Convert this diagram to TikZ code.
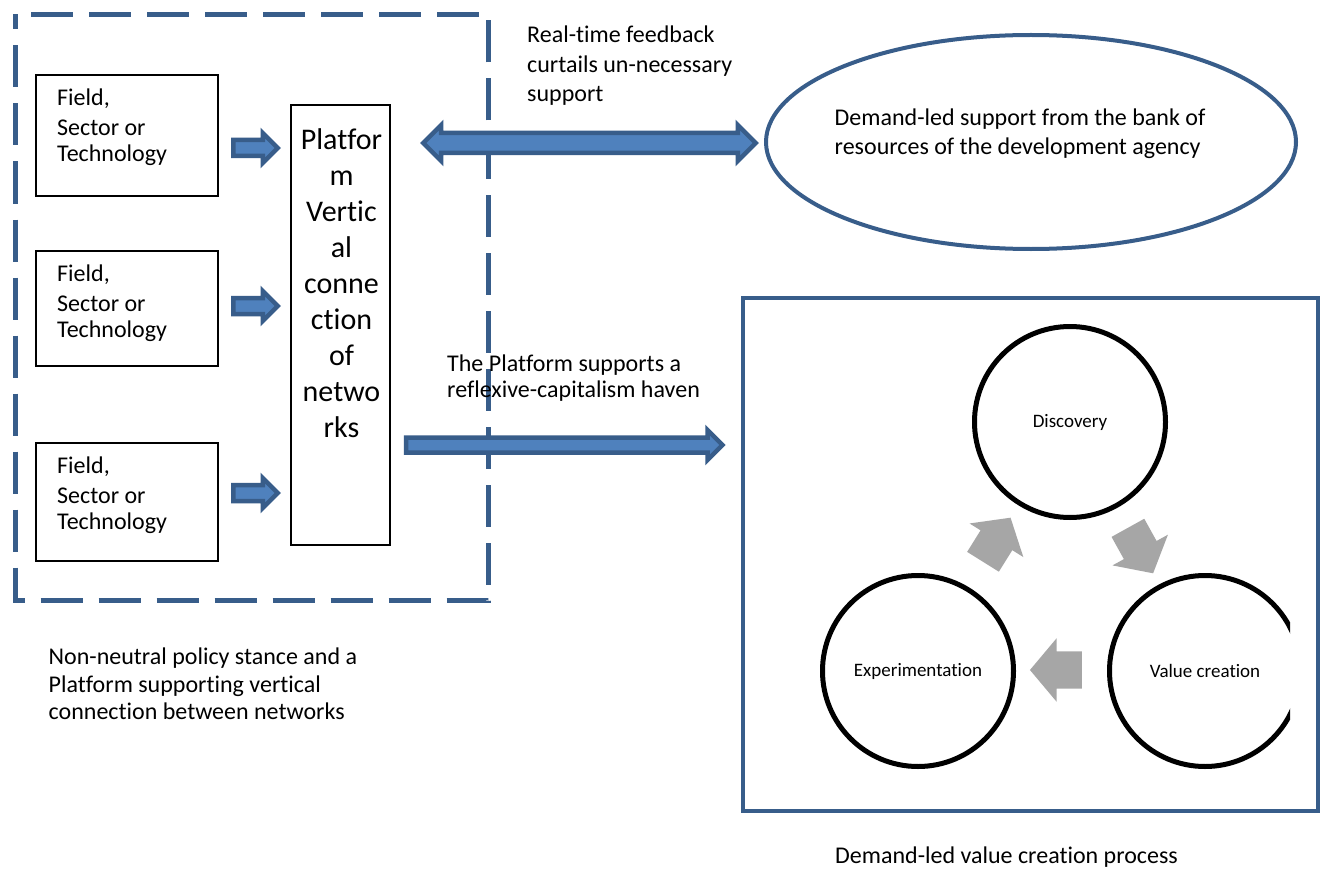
\documentclass[tikz,border=0pt]{standalone}
\usepackage{fontspec}
\setmainfont{Carlito}[Ligatures={NoCommon}]
\usetikzlibrary{shapes.arrows,shapes.geometric}
\definecolor{bdark}{HTML}{385D8A}
\definecolor{bfill}{HTML}{4F81BD}
\definecolor{agray}{HTML}{A6A6A6}
\begin{document}
\begin{tikzpicture}[x=1pt,y=-1pt,
  txt/.style={font=\fontsize{24}{29.5}\selectfont, align=left, inner sep=0pt, anchor=north west},
  fieldbox/.style={draw=black, line width=2pt, minimum width=182pt, inner sep=0pt},
  fieldtxt/.style={font=\fontsize{24}{26.5}\selectfont, align=left, inner sep=0pt, anchor=north west},
  bluearrow/.style={draw=bdark, fill=bfill, line width=4.5pt, inner sep=0pt, text depth=0pt, text width=0pt},
  smallarrow/.style={bluearrow, single arrow, minimum height=44.5pt, text height=11.5pt, single arrow head extend=7pt},
  grayarrow/.style={single arrow, fill=agray, inner sep=0pt, text depth=0pt, text width=0pt, text height=37pt, minimum height=52pt, single arrow head extend=13pt, single arrow tip angle=100},
  ring/.style={circle, draw=black, line width=5pt, minimum size=191pt, inner sep=0pt, font=\fontsize{19}{22}\selectfont}
]
\useasboundingbox (0,0) rectangle (1328,872);
\fill[white] (0,0) rectangle (1328,872);

% dashed frame
\draw[bdark, line width=5pt, dash pattern=on 42pt off 16pt, dash phase=27pt] (15.5,14.5) rectangle (488.5,600.5);

% field boxes
\node[fieldbox, minimum height=121pt] (f1) at (127,135.5) {};
\node[fieldbox, minimum height=115pt] (f2) at (127,308.5) {};
\node[fieldbox, minimum height=118pt] (f3) at (127,502) {};
\node[fieldtxt] (f1t) at (57,89) {Field,\\[3pt]Sector or\\Technology};
\node[fieldtxt] (f2t) at (57,265) {Field,\\[3pt]Sector or\\Technology};
\node[fieldtxt] (f3t) at (57,457) {Field,\\[3pt]Sector or\\Technology};

% platform
\node[draw=black, line width=2pt, minimum width=99pt, minimum height=440pt, inner sep=0pt] (pf) at (340.5,325) {};
\node[font=\fontsize{30}{36}\selectfont, align=center, inner sep=0pt, anchor=north] (pft) at (341.5,128)
  {Platfor\\m\\Vertic\\al\\conne\\ction\\of\\netwo\\rks};

% small arrows field -> platform
\node[smallarrow] (sa1) at (251.5,148) {};
\node[smallarrow] (sa2) at (251.5,306) {};
\node[smallarrow] (sa3) at (251.5,493) {};

% ellipse
\node[ellipse, draw=bdark, line width=4pt, minimum width=530pt, minimum height=214pt, inner sep=0pt] (el) at (1031,142) {};
\node[txt] (elt) at (834.5,108.5) {Demand-led support from the bank of\\resources of the development agency};

% double arrow
\node[bluearrow, double arrow, minimum height=332.6pt, text height=15.5pt, double arrow head extend=8pt] (da) at (589.5,143) {};
\node[txt] (rt) at (527,26) {Real-time feedback\\curtails un-necessary\\support};

% long arrow
\node[bluearrow, single arrow, minimum height=316.5pt, text height=10.5pt, single arrow head extend=7.5pt] (la) at (560.5,445) {};
\node[txt, font=\fontsize{24}{26}\selectfont] (pt) at (447,355) {The Platform supports a\\reflexive-capitalism haven};

% caption left
\node[txt, font=\fontsize{24}{27.5}\selectfont] (cl) at (48.5,648) {Non-neutral policy stance and a\\Platform supporting vertical\\connection between networks};

% right box
\node[draw=bdark, line width=4pt, minimum width=575pt, minimum height=513pt, inner sep=0pt] (rb) at (1030.5,554.5) {};

% circles
\node[ring] (disc) at (1070,422) {Discovery};
\node[ring] (expe) at (918,671) {Experimentation};
\begin{scope}
\clip (0,0) rectangle (1290,872);
\node[ring] (valc) at (1205,671) {Value creation};
\end{scope}

% gray arrows
\node[grayarrow, rotate=58] (g1) at (992.6,546.4) {};
\node[grayarrow, rotate=-61] (g2) at (1136.7,543.7) {};
\node[grayarrow, rotate=180] (g3) at (1063.8,670) {};

% caption right
\node[txt] (cr) at (835,847) {Demand-led value creation process};
\end{tikzpicture}
\end{document}
